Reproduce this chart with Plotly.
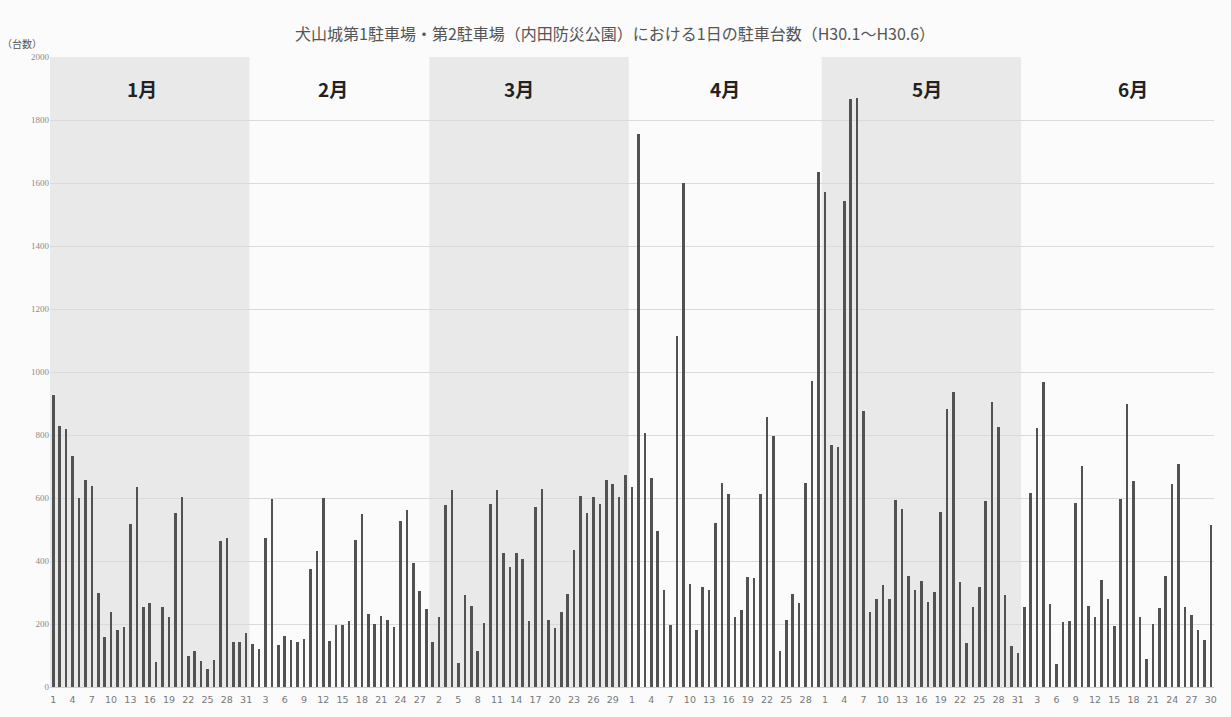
import plotly.graph_objects as go

# ---- data ----
months = ["1月", "2月", "3月", "4月", "5月", "6月"]
jan = [926, 829, 819, 732, 600, 656, 637, 297, 160, 237, 182, 192, 519, 636, 255, 266,
       80, 255, 222, 551, 603, 98, 114, 84, 58, 87, 463, 474, 142, 144, 171]
feb = [137, 120, 474, 598, 132, 161, 148, 144, 153, 374, 432, 600, 146, 196, 197, 208,
       466, 549, 233, 199, 224, 214, 189, 526, 561, 393, 305, 248]
mar = [144, 221, 579, 626, 76, 293, 258, 113, 204, 582, 624, 424, 382, 425, 405, 208,
       571, 628, 214, 187, 239, 295, 434, 605, 552, 602, 581, 656, 643, 602, 674]
apr = [636, 1756, 806, 663, 495, 308, 196, 1113, 1600, 326, 181, 317, 308, 521, 647, 613,
       223, 245, 350, 345, 614, 856, 797, 115, 213, 295, 268, 649, 973, 1636]
may = [1570, 769, 762, 1543, 1866, 1871, 875, 239, 279, 323, 279, 593, 565, 352, 309, 336,
       270, 301, 556, 882, 938, 332, 140, 255, 316, 592, 904, 824, 293, 130, 109]
jun = [254, 617, 823, 968, 263, 72, 207, 208, 584, 702, 258, 223, 341, 279, 195, 597,
       898, 655, 223, 90, 201, 250, 351, 643, 707, 254, 228, 182, 150, 513]
month_values = [jan, feb, mar, apr, may, jun]

title_text = "犬山城第1駐車場・第2駐車場（内田防災公園）における1日の駐車台数（H30.1～H30.6）"
y_unit = "（台数）"

# ---- build series ----
values, day_labels, month_start = [], [], []
for vals in month_values:
    month_start.append(len(values))
    values.extend(vals)
    day_labels.extend([str(d + 1) for d in range(len(vals))])
xs = list(range(len(values)))

tick_idx = xs[::3]
tick_txt = [day_labels[i] for i in tick_idx]

fig = go.Figure()
fig.add_trace(go.Bar(
    x=xs, y=values, width=0.4,
    marker=dict(color="#525252", line=dict(width=0)),
    hoverinfo="y",
))

shapes = []
for mi, vals in enumerate(month_values):
    if mi % 2 == 0:
        s = month_start[mi]
        shapes.append(dict(type="rect", xref="x", yref="y", layer="below",
                           x0=s - 0.5, x1=s + len(vals) - 0.5, y0=0, y1=2000,
                           fillcolor="#e9e9e9", line=dict(width=0)))

annotations = []
label_offsets = [-1.2, -1.0, -1.5, 0.0, 0.9, 2.4]
for mi, vals in enumerate(month_values):
    cx = month_start[mi] + (len(vals) - 1) / 2 + label_offsets[mi]
    annotations.append(dict(x=cx, y=1900, xref="x", yref="y", text="<b>%s</b>" % months[mi],
                            showarrow=False, yanchor="middle",
                            font=dict(family="Noto Sans CJK JP", size=19, color="#222222")))

annotations.append(dict(x=(615 - 50) / 1164, y=(690 - 33) / 633, xref="paper", yref="paper",
                        text=title_text, showarrow=False, xanchor="center", yanchor="middle",
                        font=dict(family="Noto Sans CJK JP", size=16, color="#555555")))
annotations.append(dict(x=(22 - 50) / 1164, y=(690 - 43) / 633, xref="paper", yref="paper",
                        text=y_unit, showarrow=False, xanchor="center", yanchor="middle",
                        font=dict(family="Noto Sans CJK JP", size=10, color="#555555")))

fig.update_layout(
    width=1231, height=717,
    margin=dict(l=50, r=17, t=57, b=27),
    paper_bgcolor="#fbfbfb", plot_bgcolor="#fbfbfb",
    showlegend=False,
    bargap=0,
    shapes=shapes,
    annotations=annotations,
    xaxis=dict(range=[-0.5, len(values) - 0.5], tickmode="array",
               tickvals=tick_idx, ticktext=tick_txt, showgrid=False,
               tickfont=dict(family="DejaVu Sans", size=9.5, color="#777777"),
               ticks="", ticklabelstandoff=4, showline=True, linecolor="#d0d0d0", linewidth=1,
               zeroline=False),
    yaxis=dict(range=[0, 2000], tickmode="linear", tick0=0, dtick=200,
               showgrid=True, gridcolor="#dadada", gridwidth=1,
               tickfont=dict(family="Liberation Serif", size=9, color="#8a8a8a"),
               ticks="", zeroline=False, showline=False),
)

fig.write_html("out.html")
